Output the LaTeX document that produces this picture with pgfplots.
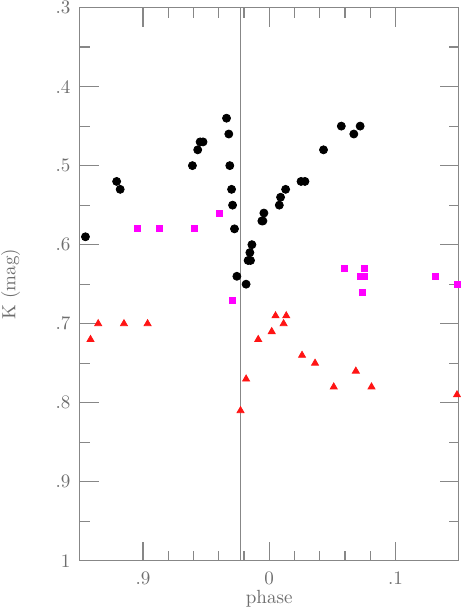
\documentclass[border=0pt]{standalone}
\usepackage{pgfplots}
\pgfplotsset{compat=1.18}
\definecolor{axgray}{RGB}{135,135,135}
\definecolor{txtgray}{RGB}{110,110,110}
\definecolor{mag}{RGB}{255,0,255}
\definecolor{tri}{RGB}{255,20,20}
\begin{document}
\begin{tikzpicture}
\begin{axis}[
  scale only axis,
  width=189pt, height=276pt,
  xmin=-0.15, xmax=0.15,
  ymin=0.3, ymax=1,
  y dir=reverse,
  axis line style={axgray, line width=0.6pt},
  tick style={axgray, line width=0.6pt},
  tick align=inside,
  major tick length=9.5pt,
  minor tick length=5pt,
  xtick={-0.1,0,0.1},
  xticklabels={.9,0,.1},
  minor x tick num=4,
  ytick={0.3,0.4,0.5,0.6,0.7,0.8,0.9,1},
  yticklabels={.3,.4,.5,.6,.7,.8,.9,1},
  minor y tick num=1,
  tick label style={text=txtgray, font=\fontsize{9.5}{11}\selectfont},
  label style={text=txtgray, font=\fontsize{9.5}{11}\selectfont},
  yticklabel style={inner sep=0.5pt, xshift=-4pt},
  xticklabel style={yshift=-2pt},
  xlabel={phase},
  ylabel={K (mag)},
  xlabel style={inner sep=0.5pt, yshift=1.5pt},
  ylabel style={inner sep=0.5pt, yshift=16.5pt},
  clip=true,
]
\draw[axgray, line width=0.5pt] (axis cs:-0.023,0.3) -- (axis cs:-0.023,1);

% black circles
\addplot[only marks, mark=*, mark size=2pt, black] coordinates {
(-0.0338,0.440) (-0.032,0.460) (-0.0547,0.470) (-0.0524,0.470)
(-0.0566,0.480) (-0.0608,0.500) (-0.0312,0.500) (-0.0298,0.530)
(-0.029,0.550) (-0.0275,0.580) (-0.0256,0.640) (-0.0183,0.650)
(-0.1208,0.520) (-0.118,0.530) (-0.1455,0.590)
(0.0252,0.520) (0.0283,0.520) (0.013,0.530) (0.009,0.540) (0.008,0.550)
(-0.0042,0.560) (-0.0058,0.570) (-0.0050,0.570) (-0.0137,0.600)
(-0.0153,0.610) (-0.0167,0.620) (-0.0148,0.620)
(0.0571,0.450) (0.072,0.450) (0.067,0.460) (0.043,0.480)
};

% magenta squares
\addplot[only marks, mark=square*, mark size=1.5pt, mag] coordinates {
(-0.1044,0.580) (-0.0873,0.580) (-0.0595,0.580) (-0.0397,0.560)
(-0.0288,0.670)
(0.0593,0.630) (0.0752,0.630) (0.072,0.640) (0.0752,0.640)
(0.1315,0.640) (0.0738,0.660) (0.1487,0.650)
};

% red triangles
\addplot[only marks, mark=triangle*, mark size=2pt, tri] coordinates {
(-0.1354,0.700) (-0.115,0.700) (-0.0963,0.700) (-0.1415,0.720)
(0.005,0.690) (0.0135,0.690) (0.0114,0.700) (0.002,0.710)
(-0.0087,0.720) (0.026,0.740) (-0.0183,0.770) (-0.0227,0.810)
(0.0363,0.750) (0.0686,0.760) (0.0511,0.780) (0.081,0.780)
(0.1487,0.790)
};
\end{axis}
\end{tikzpicture}
\end{document}
